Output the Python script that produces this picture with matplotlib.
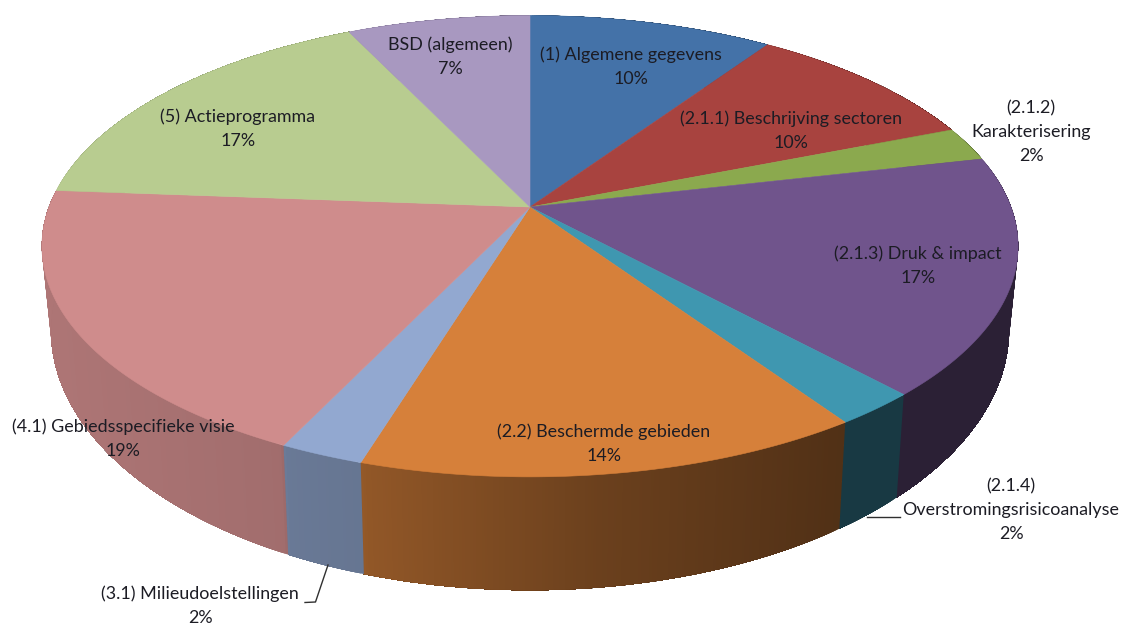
import numpy as np
import matplotlib
matplotlib.use("Agg")
import matplotlib.pyplot as plt
from matplotlib.patches import Polygon
from matplotlib.colors import to_rgb

# ---- data ----
categories = ["(1) Algemene gegevens", "(2.1.1) Beschrijving sectoren",
              "(2.1.2)\nKarakterisering", "(2.1.3) Druk & impact",
              "(2.1.4)\nOverstromingsrisicoanalyse", "(2.2) Beschermde gebieden",
              "(3.1) Milieudoelstellingen", "(4.1) Gebiedsspecifieke visie",
              "(5) Actieprogramma", "BSD (algemeen)"]
counts = [4, 4, 1, 7, 1, 6, 1, 8, 7, 3]

# ---- style / layout ----
colors = ["#4472A8", "#A8433F", "#8BA94E", "#70548C", "#3F97B0",
          "#D6803A", "#92A8D0", "#CF8C8C", "#B8CC90", "#A898C0"]
label_xy = [(631, 67), (791, 131), (1031, 132), (918, 266), (1011, 510),
            (604, 444), (200, 606), (123, 439), (238, 129), (450, 57)]

CX, K = 530, 0.17
TOP = dict(a=481, b=224, cy=207)
BOT = dict(a=472, b=252.5, cy=286)


def project(theta, ring):
    X, Y = np.sin(theta), np.cos(theta)
    w = 1 + K * Y
    return CX + ring["a"] * X / w, ring["cy"] - ring["b"] * Y / w


shade_x = [40, 280, 286, 360, 366, 600, 840, 1020]
shade_f = [0.84, 0.78, 0.72, 0.70, 0.68, 0.50, 0.38, 0.38]

fig = plt.figure(figsize=(11.22, 6.26), dpi=100, facecolor="white")
ax = fig.add_axes([0, 0, 1, 1])
ax.set_xlim(0, 1122)
ax.set_ylim(626, 0)
ax.axis("off")

total = sum(counts)
edges = np.cumsum([0] + counts) / total * 2 * np.pi

# side wall: each slice is painted as overlapping shaded strips
for i, col in enumerate(colors):
    t0, t1 = edges[i], edges[i + 1]
    n = max(4, int((t1 - t0) / 0.005))
    th = np.linspace(t0, t1, n + 1)
    base = np.array(to_rgb(col))
    for j in range(n):
        seg = np.linspace(th[j], t1, max(2, int((t1 - th[j]) / 0.004) + 2))
        xt, yt = project(seg, TOP)
        xb, yb = project(seg, BOT)
        verts = list(zip(xt, yt)) + list(zip(xb[::-1], yb[::-1]))
        xm = project(np.array([(th[j] + th[j + 1]) / 2]), TOP)[0][0]
        f = np.interp(xm, shade_x, shade_f)
        ax.add_patch(Polygon(verts, closed=True, facecolor=tuple(base * f),
                             edgecolor="none", zorder=2))

# top face
for i, col in enumerate(colors):
    th = np.linspace(edges[i], edges[i + 1], 200)
    xt, yt = project(th, TOP)
    verts = [(CX, TOP["cy"])] + list(zip(xt, yt))
    ax.add_patch(Polygon(verts, closed=True, facecolor=col, edgecolor=col,
                         linewidth=0.4, zorder=3))

# leader lines
ax.plot([328, 315.5, 305], [565, 602, 602.5], color="#303030", lw=1.0, zorder=4)
ax.plot([867, 900], [517, 517], color="#303030", lw=1.0, zorder=4)

# labels
for name, n, (x, y) in zip(categories, counts, label_xy):
    ax.text(x, y, f"{name}\n{n / total * 100:.0f}%", ha="center", va="center",
            family="Lato", fontsize=12.9, color="#1c1c24", linespacing=1.62,
            zorder=5)

fig.savefig("out.png", dpi=100)
